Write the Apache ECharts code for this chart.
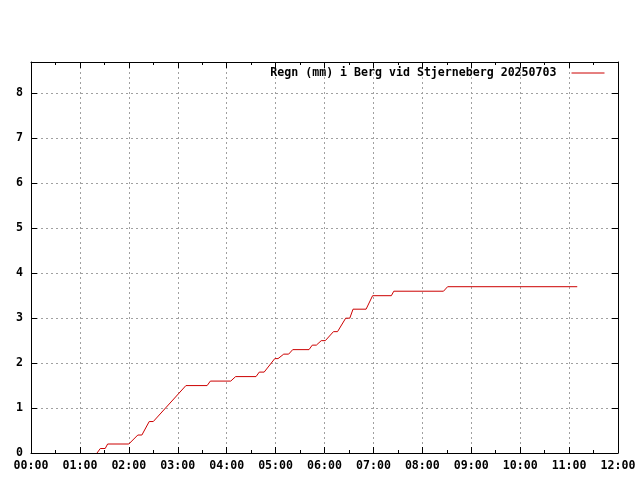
<!DOCTYPE html>
<html>
<head>
<meta charset="utf-8">
<script src="https://cdn.jsdelivr.net/npm/echarts@6/dist/echarts.min.js"></script>
<style>html,body{margin:0;padding:0;background:#fff}#c{width:640px;height:480px}</style>
</head>
<body>
<div id="c"></div>
<script>
const seriesName = 'Regn (mm) i Berg vid Stjerneberg 20250703';
const times = ['01:21','01:25','01:31','01:34','02:00','02:11','02:16','02:25','02:30','03:10','03:36','03:40','04:05','04:11','04:36','04:40','04:46','04:59','05:03','05:10','05:16','05:21','05:41','05:45','05:50','05:56','06:01','06:11','06:16','06:26','06:31','06:35','06:51','06:59','07:22','07:25','08:26','08:31','11:10'];
const values = [0,0.1,0.1,0.2,0.2,0.4,0.4,0.7,0.7,1.5,1.5,1.6,1.6,1.7,1.7,1.8,1.8,2.1,2.1,2.2,2.2,2.3,2.3,2.4,2.4,2.5,2.5,2.7,2.7,3.0,3.0,3.2,3.2,3.5,3.5,3.6,3.6,3.7,3.7];
const xTickLabels = ['00:00','01:00','02:00','03:00','04:00','05:00','06:00','07:00','08:00','09:00','10:00','11:00','12:00'];

const toMin = s => { const p = s.split(':'); return (+p[0]) * 60 + (+p[1]); };
const data = times.map((t, i) => [toMin(t), values[i]]);
const font = 'DejaVu Sans Mono';
const txt = { fontFamily: font, fontSize: 11.6, fontWeight: 'bold', color: '#000' };
const gridLine = { show: true, lineStyle: { color: '#a0a0a0', width: 1, type: [2, 3] } };
const axLine = { show: true, onZero: false, lineStyle: { color: '#000', width: 1 } };
const tick = { show: true, inside: true, length: 6, lineStyle: { color: '#000' } };

const chart = echarts.init(document.getElementById('c'), null, { renderer: 'canvas' });
chart.setOption({
  animation: false,
  backgroundColor: '#fff',
  grid: { left: 31, right: 22, top: 62, bottom: 27, containLabel: false },
  legend: {
    data: [seriesName], right: 35, top: 67, align: 'right', orient: 'horizontal',
    itemWidth: 33, itemHeight: 14, itemGap: 10, padding: 0,
    itemStyle: { opacity: 0 },
    lineStyle: { color: '#cc0000', width: 1, opacity: 1 },
    textStyle: Object.assign({ padding: [0, 10, 0, 0] }, txt)
  },
  xAxis: [{
    type: 'value', min: 0, max: 720, interval: 60, position: 'bottom',
    axisLine: axLine, axisTick: tick,
    minorTick: { show: true, splitNumber: 2, length: 3, lineStyle: { color: '#000' } },
    axisLabel: Object.assign({ margin: 7, formatter: v => xTickLabels[Math.round(v / 60)] || '' }, txt),
    splitLine: gridLine
  }, {
    type: 'value', min: 0, max: 720, interval: 60, position: 'top',
    axisLine: axLine, axisTick: tick,
    minorTick: { show: true, splitNumber: 2, length: 3, lineStyle: { color: '#000' } },
    axisLabel: { show: false }, splitLine: { show: false }
  }],
  yAxis: [{
    type: 'value', min: 0, max: 8.7, interval: 1, position: 'left',
    axisLine: axLine, axisTick: tick,
    axisLabel: Object.assign({ margin: 8, formatter: v => Number.isInteger(v) ? String(v) : '' }, txt),
    splitLine: gridLine
  }, {
    type: 'value', min: 0, max: 8.7, interval: 1, position: 'right',
    axisLine: axLine, axisTick: tick,
    axisLabel: { show: false }, splitLine: { show: false }
  }],
  series: [{
    name: seriesName, type: 'line', data: data, xAxisIndex: 0, yAxisIndex: 0,
    showSymbol: false, symbol: 'none',
    lineStyle: { color: '#cc0000', width: 1 }, itemStyle: { color: '#cc0000' }
  }]
});
</script>
</body>
</html>
